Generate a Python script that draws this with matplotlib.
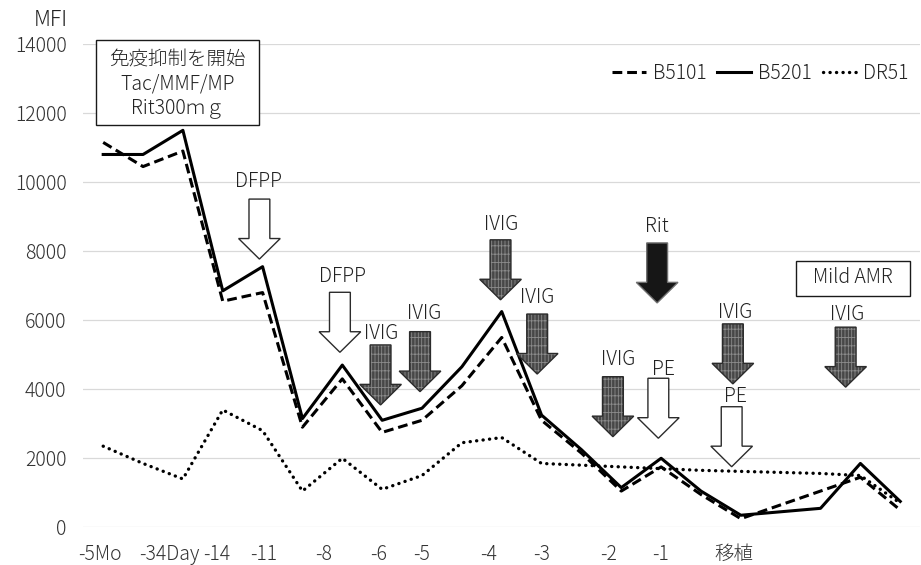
import matplotlib
matplotlib.use("Agg")
import matplotlib.pyplot as plt
from matplotlib.patches import Polygon, Rectangle
from matplotlib.transforms import ScaledTranslation

plt.rcParams['font.family'] = ['Noto Sans CJK JP', 'DejaVu Sans']
plt.rcParams['font.weight'] = 'light'
plt.rcParams['hatch.linewidth'] = 0.6

# 21 time points (category index)
x_index = list(range(21))

# MFI values
b5101 = [11150, 10450, 10900, 6550, 6800, 2900, 4300, 2750, 3100, 4100, 5500,
         3100, 2150, 1050, 1750, 950, 250, 650, 1050, 1450, 500]
b5201 = [10800, 10800, 11500, 6850, 7550, 3150, 4700, 3100, 3450, 4650, 6250,
         3250, 2250, 1150, 2000, 1050, 350, 450, 550, 1850, 750]
dr51 = [2350, 1850, 1400, 3400, 2800, 1050, 2000, 1100, 1500, 2450, 2600,
        1850, 1800, 1750, 1700, 1650, 1620, 1590, 1560, 1500, 700]

tick_labels = ["-5Mo", "-34Day", "-14", "-11", "-8", "-6", "-5",
               "-4", "-3", "-2", "-1", "移植"]
tick_pos = [-0.08, 1.66, 2.86, 4.03, 5.54, 6.92, 8.0, 9.66, 10.99, 12.67, 13.99, 15.83]

# treatment arrows: (x, tip value, label, label x, label baseline, kind)
arrows = [
    (3.92, 7770, "DFPP", 3.89, 9850, "open"),
    (5.94, 5070, "DFPP", 6.00, 7100, "open"),
    (6.96, 3545, "IVIG", 6.97, 5450, "gray"),
    (7.95, 3930, "IVIG", 8.05, 6030, "gray"),
    (9.97, 6590, "IVIG", 9.98, 8610, "gray"),
    (10.89, 4440, "IVIG", 10.89, 6490, "gray"),
    (13.90, 6500, "Rit", 13.90, 8565, "black"),
    (12.79, 2625, "IVIG", 12.92, 4700, "gray"),
    (13.93, 2580, "PE", 14.05, 4405, "open"),
    (15.80, 4155, "IVIG", 15.85, 6070, "gray"),
    (15.77, 1755, "PE", 15.87, 3620, "open"),
    (18.63, 4060, "IVIG", 18.66, 6000, "gray"),
]

TXT = '#222222'

fig = plt.figure(figsize=(9.21, 5.65), dpi=100)
ax = fig.add_axes([0.0904, 0.0667, 0.9087, 0.8554])

ax.plot(x_index, b5101, color='black', lw=2.2, linestyle=(0, (3.2, 1.6)), label='B5101', zorder=3)
ax.plot(x_index, b5201, color='black', lw=2.2, label='B5201', zorder=3)
ax.plot(x_index, dr51, color='black', lw=2.4, linestyle=(0, (0.05, 1.9)),
        dash_capstyle='round', label='DR51', zorder=3)

ax.set_xlim(-0.5, 20.5)
ax.set_ylim(0, 14000)
ax.set_yticks(range(0, 14001, 2000))
ax.set_xticks(tick_pos, tick_labels)
ax.tick_params(axis='both', length=0, labelsize=14, labelcolor='#333333')
ax.tick_params(axis='y', pad=12)
ax.tick_params(axis='x', pad=12)
ax.grid(axis='y', color='#d9d9d9', lw=0.9)
ax.set_axisbelow(True)
for s in ax.spines.values():
    s.set_visible(False)

ax.text(-1.32, 14530, "MFI", fontsize=15.5, color=TXT, ha='center', va='baseline', clip_on=False)

leg = ax.legend(ncol=3, loc='center right', bbox_to_anchor=(0.998, 0.939), frameon=False,
                fontsize=14, handlelength=1.75, handletextpad=0.35, columnspacing=0.55,
                borderpad=0, labelcolor=TXT)


def draw_arrow(x, y, kind):
    # arrow shape in points, tip at origin
    pts = [(0, 0), (-15, 14.8), (-7.5, 14.8), (-7.5, 43.2), (7.5, 43.2), (7.5, 14.8), (15, 14.8)]
    verts = [(a / 72, b / 72) for a, b in pts]
    tr = fig.dpi_scale_trans + ScaledTranslation(x, y, ax.transData)
    if kind == "open":
        ax.add_patch(Polygon(verts, closed=True, transform=tr, facecolor='white',
                             edgecolor='#2b2b2b', lw=1.0, zorder=5, clip_on=False))
    elif kind == "black":
        ax.add_patch(Polygon(verts, closed=True, transform=tr, facecolor='#161616',
                             edgecolor='#707070', lw=1.0, zorder=5, clip_on=False))
    else:
        ax.add_patch(Polygon(verts, closed=True, transform=tr, facecolor='#474747',
                             edgecolor='none', zorder=5, clip_on=False))
        ax.add_patch(Polygon(verts, closed=True, transform=tr, fill=False, hatch='|||||--',
                             edgecolor='#8a8a8a', lw=0, zorder=5.1, clip_on=False))
        ax.add_patch(Polygon(verts, closed=True, transform=tr, fill=False,
                             edgecolor='#2b2b2b', lw=1.0, zorder=5.2, clip_on=False))


for x, y, label, lx, ly, kind in arrows:
    draw_arrow(x, y, kind)
    ax.text(lx, ly, label, fontsize=14, color=TXT, ha='center', va='baseline', zorder=6)

# start of immunosuppression box
ax.add_patch(Rectangle((-0.19, 11663), 4.11, 2444, facecolor='white', edgecolor='#1a1a1a',
                       lw=1.0, zorder=6, clip_on=False))
box_lines = ["免疫抑制を開始", "Tac/MMF/MP", "Rit300ｍｇ"]
for line, yb in zip(box_lines, [13385, 12675, 12008]):
    ax.text(1.865, yb, line, fontsize=14, color=TXT, ha='center', va='baseline',
            zorder=7, clip_on=False)

# Mild AMR box
ax.add_patch(Rectangle((17.39, 6706), 2.86, 1015, facecolor='white', edgecolor='#1a1a1a',
                       lw=1.0, zorder=6))
ax.text(18.82, 7090, "Mild AMR", fontsize=14, color=TXT, ha='center', va='baseline', zorder=7)

fig.savefig("out.png", dpi=100)
